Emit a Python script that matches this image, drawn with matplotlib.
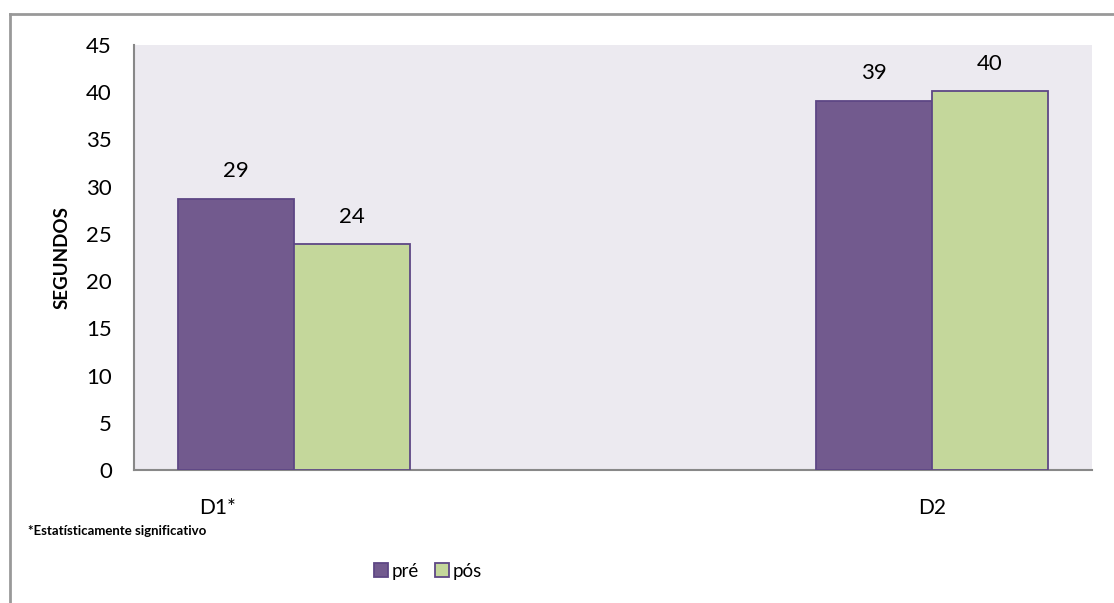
import matplotlib.pyplot as plt
import numpy as np
from matplotlib.lines import Line2D

# data
categories = ["D1*", "D2"]
pre_values = [28.7, 39.1]
pos_values = [23.9, 40.1]
series_names = ["pré", "pós"]
y_ticks = [0, 5, 10, 15, 20, 25, 30, 35, 40, 45]

purple = "#725A8E"
green = "#C4D79B"
edge = "#5E4785"
font = ["Lato", "DejaVu Sans"]

plt.rcParams["font.family"] = font

fig = plt.figure(figsize=(11.14, 6.03), dpi=100)
W, H = 1114, 603
ax = fig.add_axes([134 / W, 1 - 470 / H, (1092 - 134) / W, (470 - 45) / H])
ax.set_facecolor("#ECEAF0")

x = np.arange(len(categories))
width = 0.182
b1 = ax.bar(x - width / 2, pre_values, width, color=purple, edgecolor=edge,
            linewidth=1.3, label=series_names[0], zorder=3)
b2 = ax.bar(x + width / 2, pos_values, width, color=green, edgecolor=edge,
            linewidth=1.3, label=series_names[1], zorder=3)

for bars in (b1, b2):
    for rect in bars:
        ax.annotate(f"{rect.get_height():.0f}",
                    (rect.get_x() + rect.get_width() / 2, rect.get_height()),
                    xytext=(0, 20), textcoords="offset points",
                    ha="center", va="center", fontsize=16)

ax.set_xlim(-0.251, 1.251)
ax.set_ylim(0, 45)
ax.set_yticks(y_ticks)
ax.tick_params(axis="y", length=0, labelsize=16, pad=16)
# Excel put the first category label left of its bars
ax.set_xticks([x[0] - 0.12, x[1]])
ax.set_xticklabels(categories, fontsize=15)
ax.tick_params(axis="x", length=0, pad=20)

for s in ("top", "right"):
    ax.spines[s].set_visible(False)
for s in ("left", "bottom"):
    ax.spines[s].set_color("#888888")
    ax.spines[s].set_linewidth(1.5)

ax.set_ylabel("SEGUNDOS", fontsize=13.5, fontweight="bold")
ax.yaxis.set_label_coords(-0.066, 0.5)

fig.text(28 / W, 1 - 531 / H, "*Estatísticamente significativo",
         fontsize=9.5, fontweight="bold", va="center", ha="left")

fig.legend(handles=[b1, b2], labels=series_names, loc="center",
           bbox_to_anchor=(428 / W, 1 - 571 / H), ncol=2, frameon=False,
           fontsize=13.5, handlelength=0.7, handleheight=0.7,
           handletextpad=0.2, columnspacing=0.9)

# outer chart border (top and left only visible)
fig.add_artist(Line2D([10 / W, 1], [1 - 14 / H, 1 - 14 / H],
                      transform=fig.transFigure, color="#999999", lw=2))
fig.add_artist(Line2D([10 / W, 10 / W], [1 - 14 / H, 0],
                      transform=fig.transFigure, color="#999999", lw=2))

fig.savefig("out.png", dpi=100)
